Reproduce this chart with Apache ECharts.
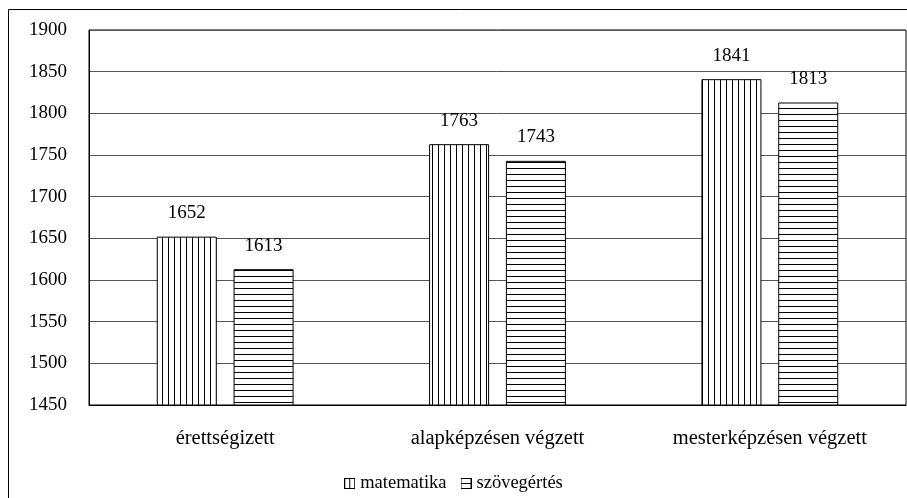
<!DOCTYPE html>
<html><head><meta charset="utf-8">
<script src="https://cdn.jsdelivr.net/npm/echarts@6/dist/echarts.min.js"></script>
<style>html,body{margin:0;padding:0;background:#fff}#c{width:907px;height:498px}</style>
</head><body><div id="c"></div>
<script>
const categories = ['érettségizett', 'alapképzésen végzett', 'mesterképzésen végzett'];
const matematika = [1652, 1763, 1841];
const szovegertes = [1613, 1743, 1813];
const seriesNames = ['matematika', 'szövegértés'];

function stripe(vertical) {
  const c = document.createElement('canvas');
  c.width = 6; c.height = 6;
  const g = c.getContext('2d');
  g.fillStyle = '#fff'; g.fillRect(0, 0, 6, 6);
  g.fillStyle = '#000';
  if (vertical) g.fillRect(0, 0, 1, 6); else g.fillRect(0, 0, 6, 1);
  return { image: c, repeat: 'repeat' };
}
function legendIcon(vertical) {
  const c = document.createElement('canvas');
  c.width = 11; c.height = 11;
  const g = c.getContext('2d');
  g.fillStyle = '#fff'; g.fillRect(0, 0, 11, 11);
  g.strokeStyle = '#000'; g.lineWidth = 1;
  g.strokeRect(0.5, 0.5, 10, 10);
  g.beginPath();
  if (vertical) { g.moveTo(5.5, 0); g.lineTo(5.5, 11); } else { g.moveTo(0, 5.5); g.lineTo(11, 5.5); }
  g.stroke();
  return 'image://' + c.toDataURL();
}
const font = '"Liberation Serif", "DejaVu Serif", serif';
const fs = 19;
const chart = echarts.init(document.getElementById('c'));
chart.setOption({
  animation: false,
  textStyle: { fontFamily: font, color: '#000' },
  graphic: [{ type: 'rect', shape: { x: 8.5, y: 9.5, width: 1000, height: 1000 }, style: { fill: 'none', stroke: '#000', lineWidth: 1 }, silent: true }],
  grid: { left: 89, top: 30, right: 1, bottom: 93, show: true, borderColor: '#000', borderWidth: 1 },
  legend: {
    bottom: 0, left: 'center', itemWidth: 11, itemHeight: 11, itemGap: 14,
    textStyle: { fontFamily: font, fontSize: 18.5, color: '#000' },
    data: seriesNames.map((n, i) => ({ name: n, icon: legendIcon(i === 0) }))
  },
  xAxis: {
    type: 'category', data: categories,
    axisTick: { show: false },
    axisLine: { lineStyle: { color: '#000' } },
    axisLabel: { fontFamily: font, fontSize: 20.5, color: '#000', margin: 23 }
  },
  yAxis: {
    type: 'value', min: 1450, max: 1900, interval: 50,
    axisLine: { show: true, lineStyle: { color: '#000' } },
    axisTick: { show: false },
    splitLine: { lineStyle: { color: '#555' } },
    axisLabel: { fontFamily: font, fontSize: fs, color: '#000', margin: 22, formatter: v => String(v) }
  },
  series: [
    { name: seriesNames[0], type: 'bar', data: matematika, barWidth: 60, barGap: '28%',
      itemStyle: { color: stripe(true), borderColor: '#000', borderWidth: 1 },
      label: { show: true, position: 'top', distance: 14, fontFamily: font, fontSize: fs, color: '#000' } },
    { name: seriesNames[1], type: 'bar', data: szovegertes, barWidth: 60,
      itemStyle: { color: stripe(false), borderColor: '#000', borderWidth: 1 },
      label: { show: true, position: 'top', distance: 14, fontFamily: font, fontSize: fs, color: '#000' } }
  ]
});
</script></body></html>
